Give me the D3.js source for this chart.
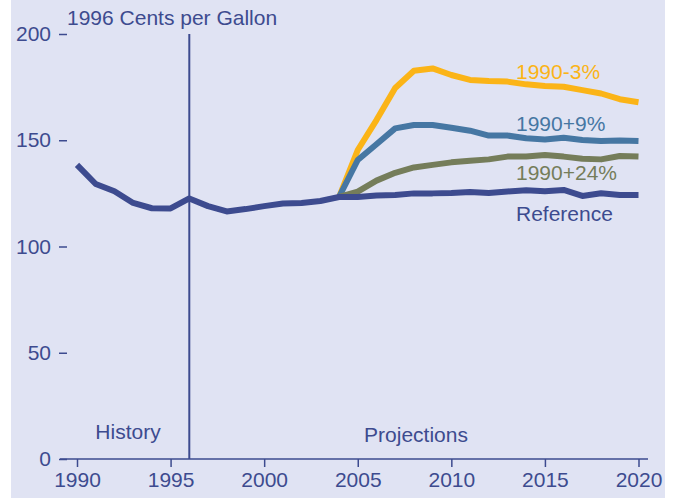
<!DOCTYPE html>
<html>
<head>
<meta charset="utf-8">
<script src="https://cdn.jsdelivr.net/npm/d3@7"></script>
<style>
  body { margin: 0; background: #fff; }
  svg { display: block; font-family: "Liberation Sans", Arial, sans-serif; }
</style>
</head>
<body>
<svg id="viz" width="680" height="498"></svg>
<script>
// years and values (1996 cents per gallon)
var years = d3.range(1990, 2021);
var reference = [138.4, 129.4, 126, 120.5, 118, 117.9, 122.6, 119, 116.5, 117.6, 119,
                 120.2, 120.5, 121.4, 123.3, 123.3, 124, 124.2, 125, 125, 125.2,
                 125.6, 125.2, 125.9, 126.5, 126, 126.6, 123.8, 125.1, 124.2, 124.2];
var scenYears = d3.range(2004, 2021);
var minus3 = [123.3, 145.4, 159.5, 174.6, 182.7, 183.8, 180.7, 178.4, 177.9, 177.6,
              176.3, 175.5, 175.2, 173.6, 172, 169.3, 167.9];
var plus9 = [123.3, 140.7, 148.1, 155.6, 157.2, 157.2, 155.9, 154.5, 152.2, 152.2,
             150.9, 150.4, 151.2, 150.1, 149.6, 149.9, 149.6];
var plus24 = [123.3, 125.8, 131, 134.7, 137.2, 138.4, 139.6, 140.4, 141, 142.3,
              142.3, 143.1, 142.3, 141.3, 141, 142.6, 142.3];
var yTicks = [0, 50, 100, 150, 200];
var xTicks = [1990, 1995, 2000, 2005, 2010, 2015, 2020];

var navy = "#3d4b8f";
var fs = 21;
var svg = d3.select("#viz");

svg.append("rect").attr("x", 11).attr("y", 0).attr("width", 654).attr("height", 498)
  .attr("fill", "#e0e3f3");

var x = d3.scaleLinear().domain([1990, 2020]).range([77, 638.5]);
var y = d3.scaleLinear().domain([0, 200]).range([459, 34]);

// y axis: labels and short dashes only
var yAxis = svg.append("g").attr("transform", "translate(67,0)")
  .call(d3.axisLeft(y).tickValues(yTicks).tickSize(8).tickPadding(8));
yAxis.select(".domain").remove();

// x axis
var xAxis = svg.append("g").attr("transform", "translate(0,459)")
  .call(d3.axisBottom(x).tickValues(xTicks).tickFormat(d3.format("d")).tickSize(8).tickSizeOuter(0).tickPadding(5));
xAxis.select(".domain").attr("d", "M60,0H648");

svg.selectAll(".tick text").attr("fill", navy).attr("font-size", fs)
  .attr("font-family", "Liberation Sans, Arial, sans-serif");
svg.selectAll(".tick line, .domain").attr("stroke", navy).attr("stroke-width", 1.5);

// history / projection divider
svg.append("line").attr("x1", x(1996)).attr("x2", x(1996)).attr("y1", 34).attr("y2", 459)
  .attr("stroke", navy).attr("stroke-width", 2);

var line = d3.line().x(function(d) { return x(d[0]); }).y(function(d) { return y(d[1]); });

var series = [
  { name: "1990-3%", yrs: scenYears, vals: minus3, color: "#fbb417", lx: 516, ly: 79 },
  { name: "1990+9%", yrs: scenYears, vals: plus9, color: "#4677a3", lx: 516, ly: 131 },
  { name: "1990+24%", yrs: scenYears, vals: plus24, color: "#757d5a", lx: 516, ly: 180 },
  { name: "Reference", yrs: years, vals: reference, color: navy, lx: 516, ly: 221 }
];

series.forEach(function(s) {
  var pts = s.yrs.map(function(yr, i) { return [yr, s.vals[i]]; });
  svg.append("path").datum(pts).attr("d", line)
    .attr("fill", "none").attr("stroke", s.color).attr("stroke-width", 6)
    .attr("stroke-linejoin", "round");
  svg.append("text").attr("x", s.lx).attr("y", s.ly).attr("fill", s.color)
    .attr("font-size", fs).text(s.name);
});

svg.append("text").attr("x", 67).attr("y", 25).attr("fill", navy).attr("font-size", fs)
  .text("1996 Cents per Gallon");
svg.append("text").attr("x", 128).attr("y", 439).attr("text-anchor", "middle")
  .attr("fill", navy).attr("font-size", fs).text("History");
svg.append("text").attr("x", 416).attr("y", 442).attr("text-anchor", "middle")
  .attr("fill", navy).attr("font-size", fs).text("Projections");
</script>
</body>
</html>
